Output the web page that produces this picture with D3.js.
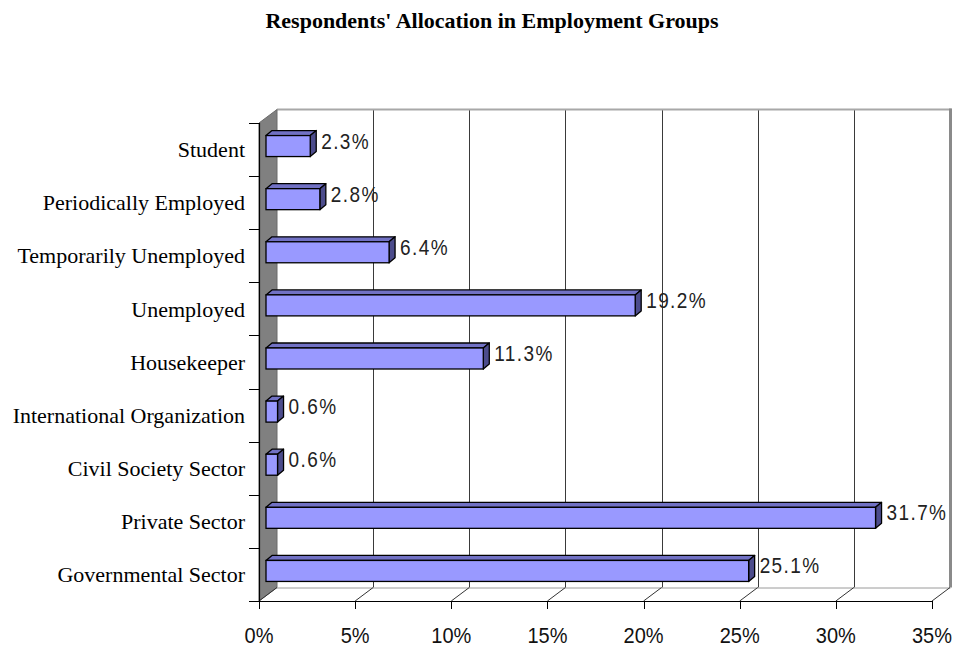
<!DOCTYPE html>
<html>
<head>
<meta charset="utf-8">
<script src="https://cdn.jsdelivr.net/npm/d3@7"></script>
<style>
  html, body { margin: 0; padding: 0; background: #fff; }
  svg { display: block; }
</style>
</head>
<body>
<svg id="chart" width="956" height="646"></svg>
<script>
// Employment groups, listed bottom to top as they appear on the axis
const categories = [
  "Governmental Sector",
  "Private Sector",
  "Civil Society Sector",
  "International Organization",
  "Housekeeper",
  "Unemployed",
  "Temporarily Unemployed",
  "Periodically Employed",
  "Student"
];
// Share of respondents in each group (%)
const shares = [25.1, 31.7, 0.6, 0.6, 11.3, 19.2, 6.4, 2.8, 2.3];
// Value axis ticks (%)
const xTicks = [0, 5, 10, 15, 20, 25, 30, 35];
const chartTitle = "Respondents' Allocation in Employment Groups";

const svg = d3.select("#chart");

// Front plane of the pseudo-3D plot box and its depth offset
const front = { left: 259, right: 932, top: 123, bottom: 601 };
const DX = 18, DY = -13.5;         // wall depth
const BAR_DX = 7, BAR_DY = -3.5;   // bar front-face offset into the depth
const TOP_DX = 6, TOP_DY = -5;     // bar thickness
const SANS_STRETCH = 1.12;         // the sans labels are drawn slightly tall

const x = d3.scaleLinear().domain([0, 35]).range([front.left, front.right]);
const y = d3.scaleBand().domain(categories).range([front.bottom, front.top]).padding(0);
const bw = y.bandwidth();

// Title
svg.append("text")
  .attr("x", 492).attr("y", 28)
  .attr("text-anchor", "middle")
  .attr("font-family", "'Liberation Serif', 'Times New Roman', serif")
  .attr("font-weight", "bold")
  .attr("font-size", 22)
  .attr("fill", "#000")
  .text(chartTitle);

// Back wall (white) with grey frame
const backLeft = front.left + DX, backRight = front.right + DX + 0.5;
const backTop = front.top + DY, backBottom = front.bottom + DY;
svg.append("rect")
  .attr("x", backLeft).attr("y", backTop)
  .attr("width", backRight - backLeft).attr("height", backBottom - backTop)
  .attr("fill", "#fff");

// Vertical gridlines on the back wall
svg.append("g").selectAll("line")
  .data(xTicks.filter(t => t > 0 && t < 35))
  .join("line")
  .attr("x1", d => Math.round(x(d) + DX) + 0.5)
  .attr("x2", d => Math.round(x(d) + DX) + 0.5)
  .attr("y1", backTop).attr("y2", backBottom)
  .attr("stroke", "#3a3a3a").attr("stroke-width", 1);

// Frame of the back wall: top and right edges
svg.append("line")
  .attr("x1", backLeft).attr("x2", backRight + 1)
  .attr("y1", backTop).attr("y2", backTop)
  .attr("stroke", "#a8a8a8").attr("stroke-width", 2);
svg.append("line")
  .attr("x1", backRight).attr("x2", backRight)
  .attr("y1", backTop - 1).attr("y2", backBottom)
  .attr("stroke", "#8a8a8a").attr("stroke-width", 3);
// back edge of the floor
svg.append("line")
  .attr("x1", backLeft).attr("x2", backRight)
  .attr("y1", backBottom + 0.5).attr("y2", backBottom + 0.5)
  .attr("stroke", "#9a9a9a").attr("stroke-width", 1);

// Left side wall (grey)
svg.append("polygon")
  .attr("points", [
    [front.left, front.top],
    [front.left + DX, front.top + DY],
    [front.left + DX, front.bottom + DY],
    [front.left, front.bottom]
  ].map(p => p.join(",")).join(" "))
  .attr("fill", "#808080")
  .attr("stroke", "#6a6a6a").attr("stroke-width", 1);

// Floor depth lines at each value tick
svg.append("g").selectAll("line")
  .data(xTicks)
  .join("line")
  .attr("x1", d => x(d)).attr("y1", front.bottom)
  .attr("x2", d => x(d) + DX).attr("y2", front.bottom + DY)
  .attr("stroke", "#333").attr("stroke-width", 1);

// Front value axis line and ticks
svg.append("line")
  .attr("x1", front.left).attr("x2", front.right)
  .attr("y1", front.bottom + 0.5).attr("y2", front.bottom + 0.5)
  .attr("stroke", "#000").attr("stroke-width", 1);
svg.append("g").selectAll("line")
  .data(xTicks)
  .join("line")
  .attr("x1", d => Math.round(x(d)) + 0.5).attr("x2", d => Math.round(x(d)) + 0.5)
  .attr("y1", front.bottom).attr("y2", front.bottom + 8)
  .attr("stroke", "#000").attr("stroke-width", 1);
svg.append("g").selectAll("text")
  .data(xTicks)
  .join("text")
  .attr("transform", d => `translate(${x(d)},643) scale(1,${SANS_STRETCH})`)
  .attr("text-anchor", "middle")
  .attr("font-family", "'Liberation Sans', Arial, sans-serif")
  .attr("font-size", 20)
  .attr("fill", "#111")
  .text(d => d + "%");

// Category axis line, boundary ticks and labels
svg.append("line")
  .attr("x1", front.left + 0.5).attr("x2", front.left + 0.5)
  .attr("y1", front.top).attr("y2", front.bottom + 1)
  .attr("stroke", "#000").attr("stroke-width", 1.2);
const boundaries = categories.map(c => y(c)).concat([front.bottom]);
svg.append("g").selectAll("line")
  .data(boundaries)
  .join("line")
  .attr("x1", front.left - 10).attr("x2", front.left)
  .attr("y1", d => Math.round(d) + 0.5).attr("y2", d => Math.round(d) + 0.5)
  .attr("stroke", "#000").attr("stroke-width", 1);
svg.append("g").selectAll("text")
  .data(categories)
  .join("text")
  .attr("x", 245)
  .attr("y", d => y(d) + bw / 2)
  .attr("dy", "0.35em")
  .attr("text-anchor", "end")
  .attr("font-family", "'Liberation Serif', 'Times New Roman', serif")
  .attr("font-size", 22)
  .attr("fill", "#000")
  .text(d => d);

// 3D bars: front face, top face and right side
const rows = categories.map((c, i) => ({ cat: c, value: shares[i] }));
const BAR_H = 21;
const bars = svg.append("g").selectAll("g").data(rows).join("g");

function geom(d) {
  const x0 = x(0) + BAR_DX;
  const x1 = x(d.value) + BAR_DX;
  const yc = y(d.cat) + bw / 2 + BAR_DY;
  return { x0, x1, t: yc - BAR_H / 2, b: yc + BAR_H / 2, yc };
}
const pts = arr => arr.map(p => p.join(",")).join(" ");

bars.append("polygon")
  .attr("points", d => {
    const g = geom(d);
    return pts([[g.x0, g.t], [g.x1, g.t], [g.x1 + TOP_DX, g.t + TOP_DY], [g.x0 + TOP_DX, g.t + TOP_DY]]);
  })
  .attr("fill", "#7171c4").attr("stroke", "#000").attr("stroke-width", 1.3)
  .attr("stroke-linejoin", "round");
bars.append("polygon")
  .attr("points", d => {
    const g = geom(d);
    return pts([[g.x1, g.t], [g.x1 + TOP_DX, g.t + TOP_DY], [g.x1 + TOP_DX, g.b + TOP_DY], [g.x1, g.b]]);
  })
  .attr("fill", "#4c4c8c").attr("stroke", "#000").attr("stroke-width", 1.3)
  .attr("stroke-linejoin", "round");
bars.append("rect")
  .attr("x", d => geom(d).x0)
  .attr("y", d => geom(d).t)
  .attr("width", d => geom(d).x1 - geom(d).x0)
  .attr("height", BAR_H)
  .attr("fill", "#9999ff").attr("stroke", "#000").attr("stroke-width", 1.3);

// Value labels to the right of each bar
bars.append("text")
  .attr("transform", d => `translate(${geom(d).x1 + TOP_DX + 5},${geom(d).yc + 2.5}) scale(1,${SANS_STRETCH})`)
  .attr("font-family", "'Liberation Sans', Arial, sans-serif")
  .attr("font-size", 19)
  .attr("letter-spacing", 1.4)
  .attr("fill", "#222")
  .text(d => d.value.toFixed(1) + "%");
</script>
</body>
</html>
